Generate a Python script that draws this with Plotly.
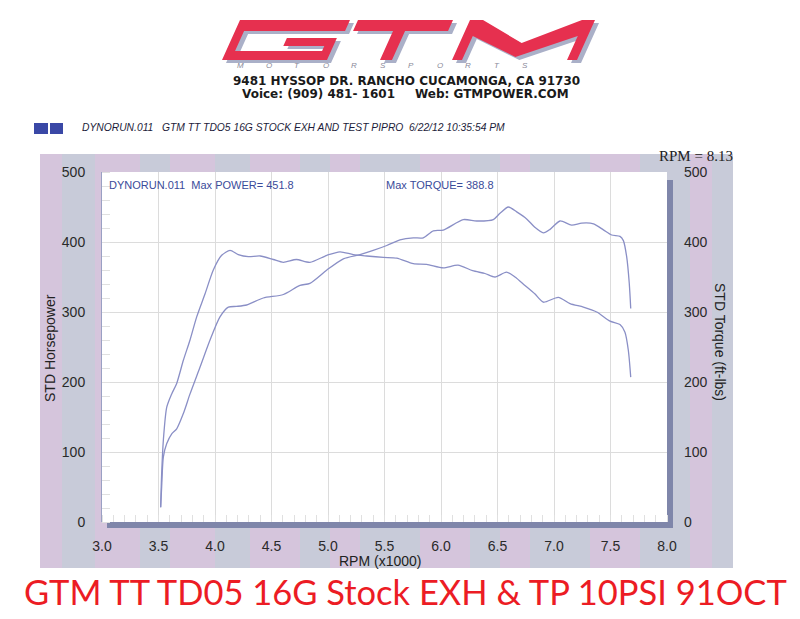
import plotly.graph_objects as go

# ---------------- data ----------------
torque_rpm = [3.519, 3.528, 3.543, 3.573, 3.617, 3.661, 3.72, 3.779, 3.838, 3.912, 3.985,
              4.059, 4.133, 4.206, 4.295, 4.40, 4.516, 4.605, 4.72, 4.84, 4.99, 5.106,
              5.224, 5.342, 5.49, 5.608, 5.755, 5.873, 6.02, 6.15, 6.28, 6.389, 6.478,
              6.58, 6.655, 6.743, 6.83, 6.906, 7.038, 7.142, 7.26, 7.378, 7.496, 7.584,
              7.628, 7.658, 7.679]
torque_val = [21, 69, 117, 164, 183, 198, 231, 260, 293, 326, 360,
              381, 388, 382, 379, 380, 375, 371, 375, 371, 381, 386,
              382, 380, 378, 377, 369, 368, 363, 367, 359, 355, 350,
              357, 350, 338, 326, 314, 321, 312, 307, 300, 287, 282,
              271, 245, 207]

power_rpm = [3.519, 3.528, 3.543, 3.573, 3.617, 3.661, 3.72, 3.779, 3.867, 3.956, 4.044,
             4.118, 4.19, 4.28, 4.427, 4.605, 4.752, 4.84, 4.99, 5.136, 5.283, 5.40,
             5.52, 5.637, 5.755, 5.843, 5.932, 6.02, 6.197, 6.316, 6.463, 6.522, 6.596,
             6.67, 6.758, 6.83, 6.906, 6.965, 7.053, 7.156, 7.245, 7.35, 7.44, 7.51,
             7.584, 7.614, 7.643, 7.666, 7.679]
power_val = [21, 50, 93, 112, 126, 133, 155, 183, 221, 260, 293,
             307, 308, 310, 320, 325, 338, 341, 360, 376, 382, 388,
             395, 403, 406, 406, 416, 417, 432, 430, 432, 441, 450,
             443, 433, 421, 413, 418, 430, 424, 427, 426, 417, 410,
             408, 402, 379, 341, 305]

x_ticks = [3.0, 3.5, 4.0, 4.5, 5.0, 5.5, 6.0, 6.5, 7.0, 7.5, 8.0]
x_tick_labels = ["3.0", "3.5", "4.0", "4.5", "5.0", "5.5", "6.0", "6.5", "7.0", "7.5", "8.0"]
y_ticks = [0, 100, 200, 300, 400, 500]

max_power = 451.8
max_torque = 388.8
rpm_readout = 8.13

# ---------------- geometry helpers (page pixel coordinates) ----------------
WID, HEI = 800, 619
OFF = 8  # page body margin
L, R, T, B = 102, 667, 172, 522
PW, PH = R - L, B - T


def px(x):
    return (x - L) / PW


def py(y):
    return (B - y) / PH


def rect(x0, y0, x1, y1, color, layer="below"):
    return dict(type="rect", xref="paper", yref="paper",
                x0=px(x0), x1=px(x1), y0=py(y1), y1=py(y0),
                fillcolor=color, line=dict(width=0), layer=layer)


def poly(points, color, layer="above"):
    d = "M " + " L ".join(f"{px(a):.5f},{py(b):.5f}" for a, b in points) + " Z"
    return dict(type="path", xref="paper", yref="paper", path=d,
                fillcolor=color, line=dict(width=0), layer=layer)


def text(x, y, s, size, color="#222222", family="Liberation Sans, Arial",
         xanchor="center", yanchor="middle", angle=0):
    return dict(x=px(x), y=py(y), xref="paper", yref="paper", text=s,
                showarrow=False, xanchor=xanchor, yanchor=yanchor,
                textangle=angle, font=dict(size=size, color=color, family=family))


shapes = []
ann = []

# frame with mottled lavender/grey texture
shapes.append(rect(40, 154, 733, 568, "#cdc7d9"))
stripe_cols = ["rgba(224,196,224,0.45)", "rgba(196,208,218,0.45)"]
stripe_x = [40, 62, 95, 140, 170, 215, 250, 300, 330, 360, 420, 470, 500, 530, 590, 640, 690, 712, 733]
for i in range(len(stripe_x) - 1):
    shapes.append(rect(stripe_x[i], 154, stripe_x[i + 1], 568, stripe_cols[i % 2]))
# white plot area and its shadow
shapes.append(rect(L, T, R, B, "#ffffff"))
shapes.append(rect(R, 180, 673, 528, "#7f86aa"))
shapes.append(rect(107, B, 673, 528, "#7f86aa"))

# ---------------- GTM logo ----------------
def logo_letter(pts, x0, dx=0, dy=0):
    base, s = 60, 0.45
    return [(x0 + u + s * v + dx, base - v + dy) for u, v in pts]


G = [(0, 0), (105, 0), (105, 22), (55, 22), (55, 14), (96, 14), (96, 9), (9, 9),
     (9, 29), (110, 29), (110, 40), (0, 40)]
Tl = [(40, 0), (52, 0), (52, 29), (95, 29), (95, 40), (0, 40), (0, 29), (40, 29)]
M = [(0, 0), (10, 0), (10, 24), (62, 3), (115, 24), (115, 0), (125, 0), (125, 40),
     (112, 40), (62, 17), (13, 40), (0, 40)]
letters = [(G, 222), (Tl, 340), (M, 452)]
for pts, x0 in letters:
    shapes.append(poly(logo_letter(pts, x0, 4, 3), "#aab0c8"))
for pts, x0 in letters:
    shapes.append(poly(logo_letter(pts, x0), "#e6304f"))

for i, ch in enumerate("MOTORSPORTS"):
    ann.append(text(240 + i * 28.5, 66, f"<i>{ch}</i>", 8, "#8a8a9a"))

ann.append(text(406, 81, "<b>9481 HYSSOP DR. RANCHO CUCAMONGA, CA 91730</b>", 12,
                "#1a1a1a", "DejaVu Sans"))
ann.append(text(318, 94, "<b>Voice: (909) 481- 1601</b>", 12, "#1a1a1a", "DejaVu Sans"))
ann.append(text(492, 94, "<b>Web: GTMPOWER.COM</b>", 12, "#1a1a1a", "DejaVu Sans"))

# run header line
shapes.append(rect(34, 123, 48, 134, "#3a48a6", layer="above"))
shapes.append(rect(50, 123, 63, 134, "#3a48a6", layer="above"))
ann.append(text(80, 127, "<i>DYNORUN.011   GTM TT TDO5 16G STOCK EXH AND TEST PIPRO  6/22/12 10:35:54 PM</i>",
                10.3, "#1c1c3a", xanchor="left"))

# in-plot labels
ann.append(text(107, 185, f"DYNORUN.011  Max POWER= {max_power}", 11, "#3a4b9a", xanchor="left"))
ann.append(text(384, 185, f"Max TORQUE= {max_torque}", 11, "#3a4b9a", xanchor="left"))
ann.append(text(735, 156, f"RPM = {rpm_readout}", 15, "#222222",
                "Liberation Serif, Times New Roman", xanchor="right"))

# axis titles
ann.append(text(50, 348, "STD Horsepower", 14, "#222222", angle=-90))
ann.append(text(720, 342, "STD Torque (ft-lbs)", 14, "#222222", angle=90))
ann.append(text(380, 561, "RPM (x1000)", 14, "#222222"))

# big red caption
ann.append(text(405, 591, "GTM TT TD05 16G Stock EXH &amp; TP 10PSI 91OCT", 34.5, "#ec1c24", "Lato"))

# ---------------- figure ----------------
fig = go.Figure()
line_style = dict(color="#8a8fc6", width=1.3, shape="spline", smoothing=0.7)
fig.add_trace(go.Scatter(x=power_rpm, y=power_val, mode="lines", line=line_style,
                         name="STD Power", yaxis="y", hoverinfo="skip"))
fig.add_trace(go.Scatter(x=torque_rpm, y=torque_val, mode="lines", line=line_style,
                         name="STD Torque", yaxis="y2", hoverinfo="skip"))

tickfont = dict(family="Liberation Sans, Arial", size=14, color="#2a2a2a")
fig.update_layout(
    width=WID, height=HEI,
    margin=dict(l=L - OFF, r=WID - R + OFF, t=T - OFF, b=HEI - B + OFF),
    paper_bgcolor="#ffffff", plot_bgcolor="rgba(0,0,0,0)",
    showlegend=False,
    xaxis=dict(range=[3.0, 8.0], tickvals=x_ticks, ticktext=x_tick_labels,
               showgrid=True, gridcolor="#dcdcdc", gridwidth=1, zeroline=False,
               ticks="", tickfont=tickfont, ticklabelstandoff=14,
               showline=False,
               minor=dict(ticks="inside", dtick=0.1, ticklen=7, tickcolor="#e0e0e0",
                          showgrid=False)),
    yaxis=dict(range=[0, 500], tickvals=y_ticks, showgrid=True, gridcolor="#dcdcdc",
               zeroline=False, ticks="", tickfont=tickfont, ticklabelstandoff=13,
               showline=True, linecolor="#9aa0c4", linewidth=1,
               minor=dict(ticks="inside", dtick=20, ticklen=8, tickcolor="#e0e0e0",
                          showgrid=False)),
    yaxis2=dict(range=[0, 500], tickvals=y_ticks, overlaying="y", side="right",
                showgrid=False, zeroline=False, ticks="", tickfont=tickfont,
                ticklabelstandoff=16, showline=False),
    shapes=shapes,
    annotations=ann,
)

fig.write_html("out.html")
